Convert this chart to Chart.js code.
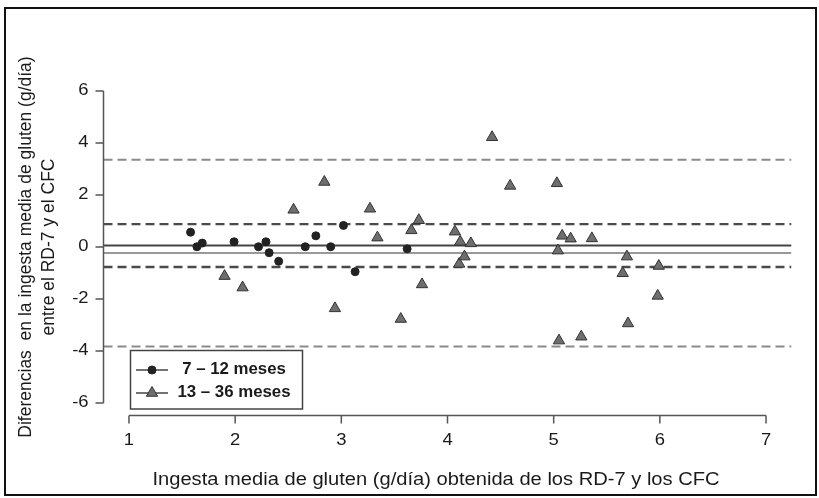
<!DOCTYPE html>
<html>
<head>
<meta charset="utf-8">
<script src="https://cdn.jsdelivr.net/npm/chart.js@4.4.1/dist/chart.umd.min.js"></script>
<style>
  html, body { margin: 0; padding: 0; background: #fff; }
  #wrap { width: 819px; height: 498px; }
</style>
</head>
<body>
<div id="wrap"><canvas id="bland" width="819" height="498"></canvas></div>
<script>
/* axis ticks */
const xTicks = [1, 2, 3, 4, 5, 6, 7];
const yTicks = [-6, -4, -2, 0, 2, 4, 6];

/* 7 - 12 meses */
const infantX = [1.58, 1.64, 1.69, 1.99, 2.22, 2.29, 2.32, 2.41, 2.66, 2.76, 2.90, 3.02, 3.13, 3.62];
const infantY = [0.57, 0.01, 0.15, 0.20, 0.01, 0.20, -0.22, -0.55, 0.01, 0.43, 0.01, 0.83, -0.95, -0.07];

/* 13 - 36 meses */
const toddlerX = [1.90, 2.07, 2.55, 2.84, 2.94, 3.27, 3.34, 3.56, 3.66, 3.73, 3.76, 4.07, 4.11, 4.12, 4.16,
  4.22, 4.42, 4.59, 5.03, 5.04, 5.05, 5.08, 5.16, 5.26, 5.36, 5.65, 5.69, 5.70, 5.98, 5.99];
const toddlerY = [-1.12, -1.56, 1.43, 2.50, -2.36, 1.47, 0.36, -2.77, 0.64, 1.03, -1.44, 0.59, -0.65, 0.20, -0.37,
  0.14, 4.22, 2.35, 2.45, -0.14, -3.60, 0.43, 0.32, -3.45, 0.33, -1.01, -0.37, -2.94, -1.88, -0.73];

/* mean difference and limits of agreement */
const infantLines = [0.06, 0.88, -0.77];
const toddlerLines = [-0.23, 3.36, -3.83];

const legendLabels = ['7 \u2013 12 meses', '13 \u2013 36 meses'];
const xTitle = 'Ingesta media de gluten (g/d\u00eda) obtenida de los RD-7 y los CFC';
const yTitle = ['Diferencias  en la ingesta media de gluten (g/d\u00eda)', 'entre el RD-7 y el CFC'];

// R style range: 4% extra on each side
const xMin = 0.76, xMax = 7.24;
const yMin = -6.48, yMax = 6.48;

const FONT = '"Liberation Sans", Arial, sans-serif';
const STRETCH = 1.15; // the figure was widened, so horizontal text is too

function hline(v, color, dashed, width) {
  return {
    type: 'line',
    data: [{x: xMin, y: v}, {x: xMax, y: v}],
    borderColor: color,
    borderWidth: width,
    borderDash: dashed ? [9, 5] : [],
    pointRadius: 0,
    fill: false
  };
}

const datasets = [
  {
    label: legendLabels[0],
    data: infantX.map((v, i) => ({x: v, y: infantY[i]})),
    pointStyle: 'circle',
    pointRadius: 4,
    backgroundColor: '#222',
    borderColor: '#222',
    borderWidth: 1
  },
  {
    label: legendLabels[1],
    data: toddlerX.map((v, i) => ({x: v, y: toddlerY[i]})),
    pointStyle: 'triangle',
    pointRadius: 6.5,
    backgroundColor: '#6e6e6e',
    borderColor: '#333',
    borderWidth: 1
  },
  hline(infantLines[0], '#444', false, 2),
  hline(infantLines[1], '#4a4a4a', true, 2.3),
  hline(infantLines[2], '#4a4a4a', true, 2.3),
  hline(toddlerLines[0], '#999', false, 2),
  hline(toddlerLines[1], '#8a8a8a', true, 2),
  hline(toddlerLines[2], '#8a8a8a', true, 2)
];

function drawMarker(ctx, style, px, py) {
  ctx.beginPath();
  if (style === 'circle') {
    ctx.fillStyle = '#222';
    ctx.strokeStyle = '#222';
    ctx.arc(px, py, 4, 0, Math.PI * 2);
  } else {
    const r = 6.5;
    ctx.fillStyle = '#6e6e6e';
    ctx.strokeStyle = '#333';
    for (let k = 0; k < 3; k++) {
      const a = k * 2 * Math.PI / 3;
      const fx = px + Math.sin(a) * r, fy = py - Math.cos(a) * r;
      if (k === 0) ctx.moveTo(fx, fy); else ctx.lineTo(fx, fy);
    }
    ctx.closePath();
  }
  ctx.lineWidth = 1;
  ctx.fill();
  ctx.stroke();
}

function wideText(ctx, txt, px, py, k) {
  ctx.save();
  ctx.translate(px, py);
  ctx.scale(k, 1);
  ctx.fillText(txt, 0, 0);
  ctx.restore();
}

// axes, titles, legend and frame drawn the way R does it
const rStyle = {
  id: 'rStyle',
  afterDraw(chart) {
    const {ctx, chartArea: a} = chart;
    const sx = chart.scales.x, sy = chart.scales.y;
    ctx.save();

    // axis lines + ticks
    ctx.strokeStyle = '#555';
    ctx.lineWidth = 1.5;
    ctx.beginPath();
    ctx.moveTo(sx.getPixelForValue(xTicks[0]), a.bottom);
    ctx.lineTo(sx.getPixelForValue(xTicks[xTicks.length - 1]), a.bottom);
    xTicks.forEach(t => {
      const px = sx.getPixelForValue(t);
      ctx.moveTo(px, a.bottom);
      ctx.lineTo(px, a.bottom + 8);
    });
    ctx.moveTo(a.left, sy.getPixelForValue(yTicks[0]));
    ctx.lineTo(a.left, sy.getPixelForValue(yTicks[yTicks.length - 1]));
    yTicks.forEach(t => {
      const py = sy.getPixelForValue(t);
      ctx.moveTo(a.left, py);
      ctx.lineTo(a.left - 8, py);
    });
    ctx.stroke();

    // tick labels
    ctx.fillStyle = '#1a1a1a';
    ctx.font = '16px ' + FONT;
    ctx.textBaseline = 'middle';
    ctx.textAlign = 'center';
    xTicks.forEach(t => wideText(ctx, String(t), sx.getPixelForValue(t), a.bottom + 25, STRETCH));
    ctx.textAlign = 'right';
    yTicks.forEach(t => wideText(ctx, String(t), a.left - 15, sy.getPixelForValue(t), STRETCH));

    // axis titles
    ctx.font = '17.5px ' + FONT;
    ctx.textAlign = 'center';
    wideText(ctx, xTitle, 436, 480, STRETCH);
    ctx.save();
    ctx.translate(26, (a.top + a.bottom) / 2);
    ctx.rotate(-Math.PI / 2);
    ctx.fillText(yTitle[0], 0, 0);
    ctx.fillText(yTitle[1], 0, 23);
    ctx.restore();

    // legend box
    ctx.strokeStyle = '#444';
    ctx.lineWidth = 1.5;
    ctx.strokeRect(130.5, 350.5, 172, 58.5);
    const rows = [370, 393];
    const styles = ['circle', 'triangle'];
    rows.forEach((ry, i) => {
      ctx.strokeStyle = '#444';
      ctx.lineWidth = 1.5;
      ctx.beginPath();
      ctx.moveTo(136, ry);
      ctx.lineTo(168, ry);
      ctx.stroke();
      drawMarker(ctx, styles[i], 152, ry);
      ctx.fillStyle = '#1a1a1a';
      ctx.font = 'bold 16px ' + FONT;
      ctx.textAlign = 'center';
      wideText(ctx, legendLabels[i], 234, ry, 1.05);
    });

    // outer frame
    ctx.strokeStyle = '#111';
    ctx.lineWidth = 2;
    ctx.strokeRect(5, 8, 811, 487);
    ctx.restore();
  }
};

new Chart(document.getElementById('bland'), {
  type: 'scatter',
  data: { datasets },
  options: {
    responsive: false,
    animation: false,
    devicePixelRatio: 1,
    layout: { padding: { left: 103.5, right: 27.5, top: 78.5, bottom: 82.5 } },
    scales: {
      x: { type: 'linear', min: xMin, max: xMax, display: false },
      y: { type: 'linear', min: yMin, max: yMax, display: false }
    },
    plugins: {
      legend: { display: false },
      tooltip: { enabled: false }
    }
  },
  plugins: [rStyle]
});
</script>
</body>
</html>
